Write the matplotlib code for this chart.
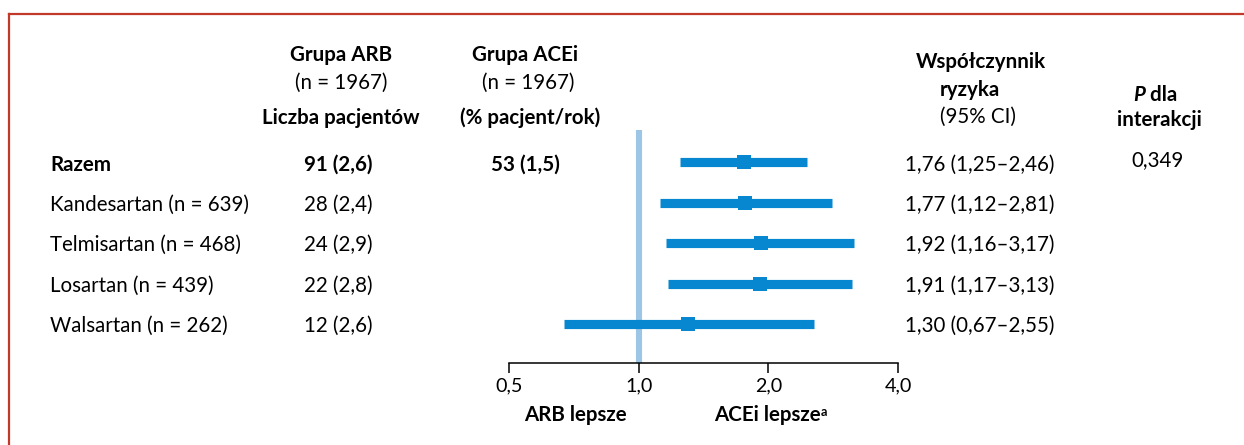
import matplotlib
matplotlib.use("Agg")
import matplotlib.pyplot as plt
import matplotlib.transforms as mtransforms
from matplotlib.lines import Line2D
from matplotlib.ticker import FixedLocator, NullLocator

plt.rcParams['font.family'] = ['Lato', 'DejaVu Sans']

# subgroup data
labels = ["Razem", "Kandesartan (n = 639)", "Telmisartan (n = 468)",
          "Losartan (n = 439)", "Walsartan (n = 262)"]
arb_events = ["91 (2,6)", "28 (2,4)", "24 (2,9)", "22 (2,8)", "12 (2,6)"]
acei_events = ["53 (1,5)", "", "", "", ""]
hr = [1.76, 1.77, 1.92, 1.91, 1.30]
ci_low = [1.25, 1.12, 1.16, 1.17, 0.67]
ci_high = [2.46, 2.81, 3.17, 3.13, 2.55]
p_interaction = "0,349"
ticks = [0.5, 1.0, 2.0, 4.0]
tick_labels = ["0,5", "1,0", "2,0", "4,0"]

W, H = 1244, 445
BLUE = "#0787d0"
REF = "#9dc5e6"
FS = 14.8

fig = plt.figure(figsize=(W / 100, H / 100), dpi=100)


def fx(px):
    return px / W


def fy(py):
    return 1 - py / H


# frame
fig.add_artist(Line2D([fx(9), fx(9)], [fy(14), 0], transform=fig.transFigure,
                      color="#c0392b", lw=1.6))
fig.add_artist(Line2D([fx(9), 1], [fy(14), fy(14)], transform=fig.transFigure,
                      color="#c0392b", lw=1.6))

ax = fig.add_axes([fx(509), fy(363), fx(898) - fx(509), fy(130) - fy(363)])
ax.set_xscale("log")
ax.set_xlim(0.5, 4.0)
ax.set_ylim(4.963, -0.804)
rows = list(range(len(labels)))

ax.axvline(1.0, color=REF, lw=4.4, zorder=1)
ax.hlines(rows, ci_low, ci_high, color=BLUE, lw=6.6, zorder=2, capstyle="butt")
ax.plot(hr, rows, "s", color=BLUE, ms=10.5, mew=0, zorder=3)

for s in ["top", "left", "right"]:
    ax.spines[s].set_visible(False)
ax.spines["bottom"].set_linewidth(1.1)
ax.yaxis.set_major_locator(NullLocator())
ax.xaxis.set_major_locator(FixedLocator(ticks))
ax.xaxis.set_minor_locator(NullLocator())
ax.set_xticklabels(tick_labels, fontsize=FS - 0.6)
ax.tick_params(axis="x", length=7, width=1.1, pad=3)

# table columns aligned with the rows
tr = mtransforms.blended_transform_factory(fig.transFigure, ax.transData)
for i in rows:
    bold = "bold" if i == 0 else "normal"
    ax.text(fx(50), i + 0.05, labels[i], transform=tr, ha="left", va="center",
            fontsize=FS, fontweight=bold)
    ax.text(fx(338), i + 0.05, arb_events[i], transform=tr, ha="center", va="center",
            fontsize=FS, fontweight=bold)
    if acei_events[i]:
        ax.text(fx(525), i + 0.05, acei_events[i], transform=tr, ha="center",
                va="center", fontsize=FS, fontweight=bold)
    ax.text(fx(980), i + 0.05,
            f"{hr[i]:.2f} ({ci_low[i]:.2f}–{ci_high[i]:.2f})".replace(".", ","),
            transform=tr, ha="center", va="center", fontsize=FS)
ax.text(fx(1157), -0.06, p_interaction, transform=tr, ha="center", va="center",
        fontsize=FS)

# column headers
fig.text(fx(341), fy(55), "Grupa ARB", ha="center", va="center", fontsize=FS, fontweight="bold")
fig.text(fx(341), fy(83), "(n = 1967)", ha="center", va="center", fontsize=FS)
fig.text(fx(341), fy(118), "Liczba pacjentów", ha="center", va="center", fontsize=FS, fontweight="bold")
fig.text(fx(525), fy(55), "Grupa ACEi", ha="center", va="center", fontsize=FS, fontweight="bold")
fig.text(fx(528), fy(83), "(n = 1967)", ha="center", va="center", fontsize=FS)
fig.text(fx(530), fy(118), "(% pacjent/rok)", ha="center", va="center", fontsize=FS, fontweight="bold")
fig.text(fx(981), fy(62), "Współczynnik", ha="center", va="center", fontsize=FS, fontweight="bold")
fig.text(fx(970), fy(90), "ryzyka", ha="center", va="center", fontsize=FS, fontweight="bold")
fig.text(fx(978), fy(117), "(95% CI)", ha="center", va="center", fontsize=FS)

p_txt = fig.text(fx(1133), fy(95), "P", ha="left", va="center", fontsize=FS,
                 fontweight="bold", fontstyle="italic")
ax.annotate(" dla", xy=(1, 0.5), xycoords=p_txt, ha="left", va="center",
            fontsize=FS, fontweight="bold")
fig.text(fx(1159), fy(120), "interakcji", ha="center", va="center", fontsize=FS, fontweight="bold")

# direction labels under the axis
fig.text(fx(575), fy(415), "ARB lepsze", ha="center", va="center", fontsize=FS, fontweight="bold")
acei_txt = fig.text(fx(767), fy(415), "ACEi lepsze", ha="center", va="center",
                    fontsize=FS, fontweight="bold")
ax.annotate("a", xy=(1, 0.95), xycoords=acei_txt, ha="left", va="top",
            fontsize=FS * 0.62, fontweight="bold")

fig.savefig("out.png", dpi=100)
